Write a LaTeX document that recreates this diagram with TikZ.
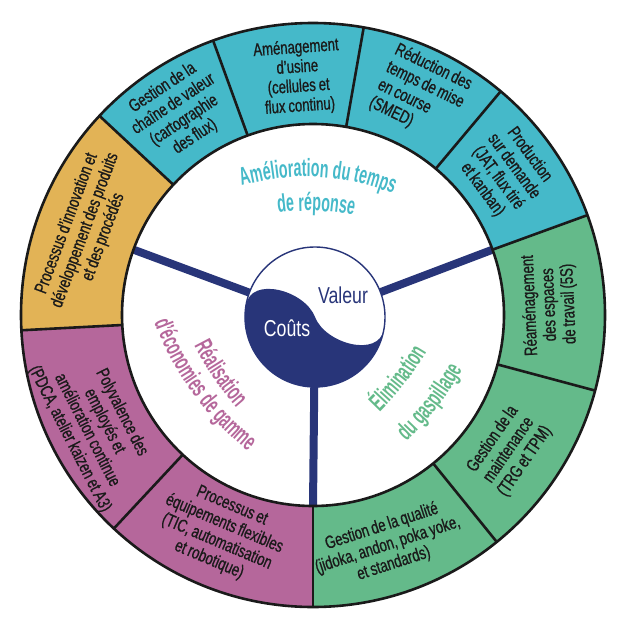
\documentclass[tikz,border=0pt]{standalone}
\usepackage{fontspec}
\usetikzlibrary{calc,decorations.text}
\newfontfamily\ringfont{Liberation Sans}[FakeStretch=0.73,FakeBold=0.8,WordSpace=0.8]
\newfontfamily\headfont{Liberation Sans}[FakeStretch=0.57]
\newfontfamily\ctrfont{Liberation Sans}[FakeStretch=0.77]
\definecolor{ringcyan}{HTML}{45B9C9}
\definecolor{ringyellow}{HTML}{E2B356}
\definecolor{ringmag}{HTML}{B5679B}
\definecolor{ringgreen}{HTML}{64BA8A}
\definecolor{navy}{HTML}{283579}
\definecolor{edge}{HTML}{1A1A1A}
\newcommand\ringsector[3]{\fill[#1] ([shift={(#2:292)}]RC) arc[start angle=#2, end angle=#3, radius=292] -- ([shift={(#3:191)}]RC) arc[start angle=#3, end angle=#2, radius=191] -- cycle;}
% text along an arc bulging outward (top text): x, y of baseline middle, reading angle, radius, text
\newcommand\uparc[5]{\path[decorate,decoration={text along path,text align=center,text={#5}}] ($(#1,#2)+(#3-90:#4)+(#3+120:#4)$) arc[start angle=#3+120, end angle=#3+60, radius=#4];}
% text along an arc concave toward the top of the letters
\newcommand\downarc[5]{\path[decorate,decoration={text along path,text align=center,text={#5}}] ($(#1,#2)+(#3+90:#4)+(#3-120:#4)$) arc[start angle=#3-120, end angle=#3-60, radius=#4];}
\newcommand\hf{\headfont\bfseries\fontsize{25}{25}\selectfont}
\begin{document}
\begin{tikzpicture}[x=1pt,y=1pt,
  sep/.style={draw=edge, line width=2.6pt},
  rim/.style={draw=edge, line width=2.6pt},
  ringlabel/.style={font=\ringfont\fontsize{18}{19.5}\selectfont, align=center, inner sep=0pt, text=edge},
  spoke/.style={draw=navy, line width=8pt},
  ctrlabel/.style={font=\ctrfont\fontsize{23}{23}\selectfont, inner sep=0pt},
]
\useasboundingbox (0,0) rectangle (632,-629);
\coordinate (RC) at (313,-315);
\coordinate (YC) at (315,-317);

% spokes
\draw[spoke] (YC) -- ([shift={(20:191)}]RC);
\draw[spoke] (YC) -- ([shift={(160:191)}]RC);
\draw[spoke] (YC) -- ([shift={(270:191)}]RC);

% ring sectors
\ringsector{ringcyan}{20}{137}
\ringsector{ringyellow}{137}{183}
\ringsector{ringmag}{183}{270}
\ringsector{ringgreen}{270}{380}
\foreach \a in {20,50,80,110,137,183,227,270,309,345}
  \draw[sep] ([shift={(\a:191)}]RC) -- ([shift={(\a:292)}]RC);
\draw[rim] (RC) circle[radius=292];
\draw[rim] (RC) circle[radius=191];

% yin-yang
\fill[white] (YC) circle[radius=70];
\fill[navy] ([shift={(-68.9,12.2)}]YC) .. controls ([shift={(-64.1,41)}]YC) and ([shift={(-10.4,27.0)}]YC) .. (YC)
  .. controls ([shift={(10.4,-27.0)}]YC) and ([shift={(64.1,-41)}]YC) .. ([shift={(68.9,-12.2)}]YC)
  arc[start angle=-10, end angle=-190, radius=70] -- cycle;
\draw[navy, line width=1.4pt] (YC) circle[radius=70];
\node[ctrlabel, text=navy] (valeur) at (343,-295) {Valeur};
\node[ctrlabel, text=white] (couts) at (287,-328) {Coûts};

% ring labels
\node[ringlabel, rotate=33.5] (l1) at ($(RC)+(123.5:243)$) {Gestion de la\\chaîne de valeur\\(cartographie\\des flux)};
\node[ringlabel, rotate=4] (l2) at ($(RC)+(93.6:238)$) {Aménagement\\d’usine\\(cellules et\\flux continu)};
\node[ringlabel, rotate=-26, align=left] (l3) at ($(RC)+(64:246)$) {Réduction des\\temps de mise\\en course\\(SMED)};
\node[ringlabel, rotate=-53.5] (l4) at ($(RC)+(36.5:240)$) {Production\\sur demande\\(JAT, flux tiré\\et kanban)};
\node[ringlabel, rotate=92.5] (l5) at ($(RC)+(2.5:237)$) {Réaménagement\\des espaces\\de travail (5S)};
\node[ringlabel, rotate=55.4] (l6) at ($(RC)+(-34.6:238)$) {Gestion de la\\maintenance\\(TRG et TPM)};
\node[ringlabel, rotate=18] (l7) at ($(RC)+(-72:242)$) {Gestion de la qualité\\(jidoka, andon, poka yoke,\\et standards)};
\node[ringlabel, rotate=-23] (l8) at ($(RC)+(247:237)$) {Processus et\\équipements flexibles\\(TIC, automatisation\\et robotique)};
\node[ringlabel, rotate=-63] (l9) at ($(RC)+(207:244)$) {Polyvalence des\\employés et\\amélioration continue\\(PDCA, atelier kaizen et A3)};
\node[ringlabel, rotate=69.6] (l10) at ($(RC)+(159.6:243)$) {Processus d’innovation et\\développement des produits\\et des procédés};

% inner labels
\uparc{318}{-177}{-3}{230}{|\hf\color{ringcyan}|Amélioration du temps}
\uparc{316}{-211}{-2}{230}{|\hf\color{ringcyan}|de réponse}
\downarc{213.4}{-378}{-56}{300}{|\hf\color{ringmag}|Réalisation}
\downarc{192.4}{-393}{-54}{300}{|\hf\color{ringmag}|d’économies de gamme}
\downarc{405}{-383.5}{52}{300}{|\hf\color{ringgreen}|Élimination}
\downarc{437}{-407.5}{52}{300}{|\hf\color{ringgreen}|du gaspillage}
\end{tikzpicture}
\end{document}
